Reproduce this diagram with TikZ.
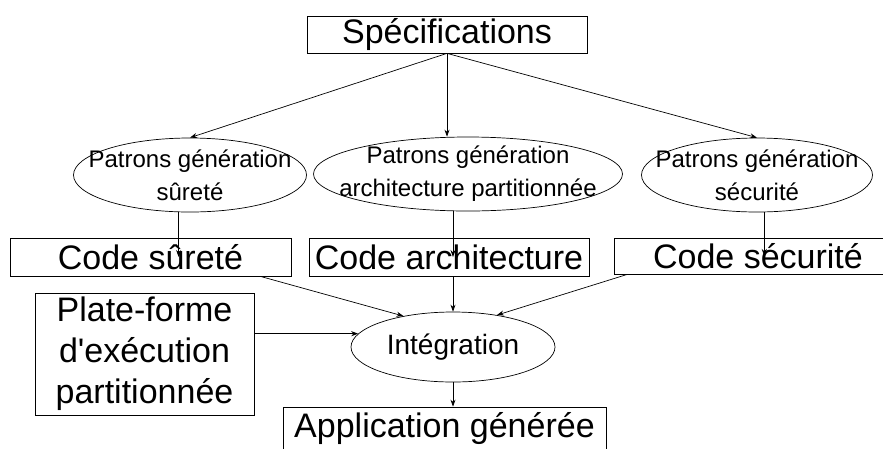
\documentclass[tikz,border=0pt]{standalone}
\usepackage{fontspec}
\setmainfont{Liberation Sans}
\usetikzlibrary{shapes.geometric,arrows.meta}

\begin{document}
\begin{tikzpicture}[x=1pt,y=-1pt,line width=0.7pt,
    >={Stealth[length=7pt,width=5pt]},
    box/.style={draw,rectangle,inner sep=0pt,font=\fontsize{34}{41}\selectfont,align=center},
    patron/.style={draw,ellipse,inner sep=-30pt,font=\fontsize{24}{33}\selectfont,align=center}]
  \useasboundingbox (0,0) rectangle (883,448);
  \clip (0,0) rectangle (883,448);

  \node [box,minimum width=280pt,minimum height=37pt] (spec) at (447,34.5) {Spécifications};

  \node [patron,minimum width=233pt,minimum height=74pt] (psur) at (190,175) {Patrons génération\\sûreté};
  \node [patron,minimum width=309pt,minimum height=74pt] (parch) at (468,174) {Patrons génération\\architecture partitionnée};
  \node [patron,minimum width=231pt,minimum height=74pt] (psec) at (757,175) {Patrons génération\\sécurité};

  \node [box,minimum width=281pt,minimum height=38pt] (csur) at (150.5,257) {Code sûreté};
  \node [box,minimum width=280pt,minimum height=38pt] (carch) at (449,257) {Code architecture};
  \node [box,minimum width=288pt,minimum height=36pt] (csec) at (758,256) {Code sécurité};

  \node [box,minimum width=219pt,minimum height=122pt] (plat) at (144.5,354) {Plate-forme\\d\textquotesingle exécution\\partitionnée};
  \node [draw,ellipse,inner sep=-30pt,minimum width=204pt,minimum height=70pt,
    font=\fontsize{28}{34}\selectfont] (integ) at (453,347) {Intégration};
  \node [box,minimum width=323pt,minimum height=42pt] (app) at (444.5,428) {Application générée};

  \draw [->] (spec.south) -- (psur.north);
  \draw [->] (spec.south) -- (spec.south |- parch.north);
  \draw [->] (spec.south) -- (psec.north);

  \draw [->] (psur.253) -- (psur.253 |- csur);
  \draw [->] (parch.248) -- (parch.248 |- carch);
  \draw [->] (psec.281) -- (psec.281 |- csec);

  \draw [->] (csur.350) -- (integ.148);
  \draw [->] (carch.south -| integ.north) -- (integ.north);
  \draw [->] (csec.188) -- (integ.36);
  \draw [->] (plat.east |- integ.172) -- (integ.172);

  \draw [->] (integ.south) -- (integ.south |- app.north);

\end{tikzpicture}
\end{document}
